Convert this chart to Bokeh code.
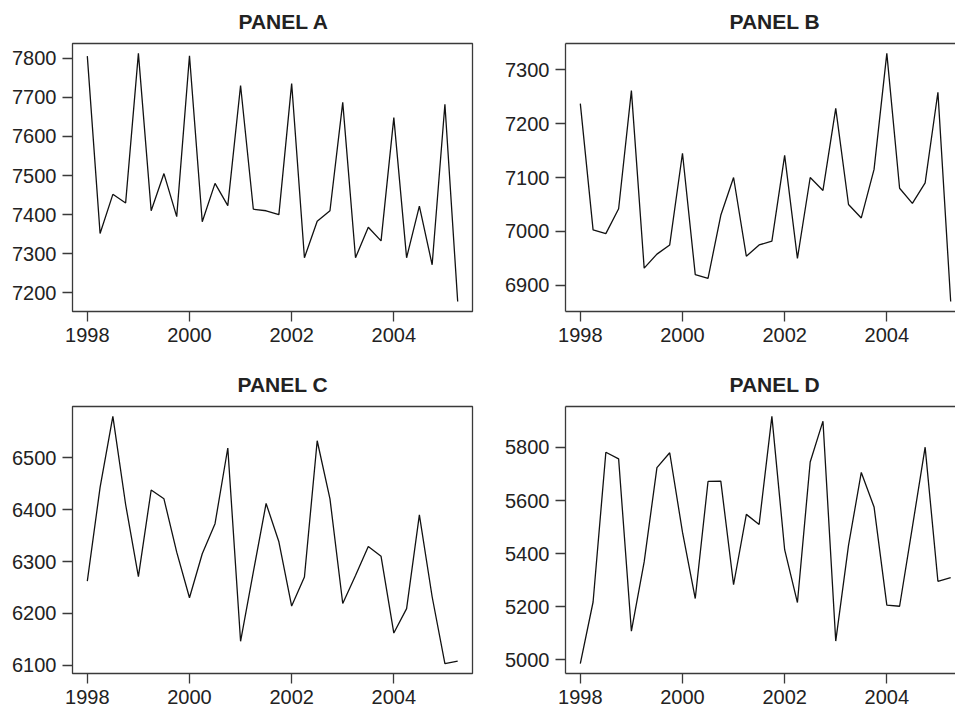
from bokeh.plotting import figure
from bokeh.layouts import gridplot
from bokeh.models import Range1d, LinearAxis, FixedTicker
from bokeh.embed import file_html
from bokeh.resources import INLINE

# Quarterly observations, 1998 Q1 .. 2005 Q2
quarters = [1998 + q / 4 for q in range(30)]

panel_a = [7805, 7352, 7452, 7430, 7812, 7410, 7505, 7395,
           7806, 7382, 7480, 7423, 7730, 7414, 7410, 7400,
           7735, 7290, 7383, 7410, 7687, 7290, 7368, 7333,
           7648, 7290, 7422, 7272, 7682, 7178]

panel_b = [7237, 7003, 6996, 7042, 7261, 6932, 6958, 6975,
           7145, 6920, 6913, 7030, 7100, 6954, 6975, 6982,
           7141, 6950, 7100, 7076, 7228, 7050, 7025, 7115,
           7330, 7080, 7052, 7090, 7258, 6870]

panel_c = [6262, 6443, 6580, 6410, 6271, 6438, 6421, 6318,
           6230, 6315, 6373, 6519, 6146, 6280, 6412, 6338,
           6214, 6270, 6533, 6421, 6219, 6273, 6329, 6310,
           6162, 6209, 6390, 6232, 6103, 6108]

panel_d = [4986, 5218, 5782, 5757, 5108, 5369, 5724, 5780,
           5481, 5231, 5672, 5673, 5283, 5548, 5510, 5917,
           5415, 5216, 5745, 5899, 5071, 5431, 5706, 5576,
           5206, 5202, 5500, 5801, 5296, 5310]

titles = ["PANEL A", "PANEL B", "PANEL C", "PANEL D"]
x_ticks = [1998, 2000, 2002, 2004]
ticks_a = [7200, 7300, 7400, 7500, 7600, 7700, 7800]
ticks_b = [6900, 7000, 7100, 7200, 7300]
ticks_c = [6100, 6200, 6300, 6400, 6500]
ticks_d = [5000, 5200, 5400, 5600, 5800]

FONT = "Liberation Sans"
TXT = "#222222"
FRAME = "#3a3a3a"


def style_axis(ax, ticks):
    ax.ticker = FixedTicker(ticks=ticks)
    ax.minor_tick_line_color = None
    ax.major_tick_in = 0
    ax.major_tick_out = 10
    ax.major_tick_line_color = FRAME
    ax.major_tick_line_width = 1.3
    ax.major_label_text_font = FONT
    ax.major_label_text_font_size = "20px"
    ax.major_label_text_color = TXT
    ax.axis_line_width = 1.3
    ax.axis_line_color = FRAME


def make(title, vals, yticks, fw, fh, bl, br, bt, bb, clipped=False, title_off=166):
    full_w = 400
    span = quarters[-1] - quarters[0]
    x0 = quarters[0] - 0.04 * span
    x1 = quarters[-1] + 0.04 * span
    x1v = x0 + (x1 - x0) * fw / full_w
    lo, hi = min(vals), max(vals)
    pad = 0.04 * (hi - lo)
    p = figure(width=bl + fw + br, height=bt + fh + bb,
               x_range=Range1d(x0, x1v), y_range=Range1d(lo - pad, hi + pad),
               output_backend="svg", toolbar_location=None,
               min_border_left=bl, min_border_right=br,
               min_border_top=bt, min_border_bottom=bb, title=title)
    p.line(quarters, vals, line_color="#111111", line_width=1.3)
    p.grid.visible = False
    p.background_fill_color = "white"
    p.border_fill_color = "white"
    style_axis(p.xaxis[0], x_ticks)
    style_axis(p.yaxis[0], yticks)
    p.xaxis.major_label_standoff = 6
    p.yaxis.major_label_standoff = 6
    p.title.align = "left"
    p.title.offset = title_off
    p.title.vertical_align = "top"
    p.title.text_font = FONT
    p.title.text_font_size = "21px"
    p.title.text_font_style = "bold"
    p.title.text_color = TXT
    p.title.standoff = 17
    if clipped:
        p.outline_line_color = None
        top = LinearAxis(ticker=FixedTicker(ticks=[]), major_tick_out=0,
                         major_tick_in=0, minor_tick_out=0, minor_tick_in=0,
                         axis_line_color=FRAME, axis_line_width=1.3)
        p.add_layout(top, "above")
    else:
        p.outline_line_color = FRAME
        p.outline_line_width = 1.3
        p.xaxis.axis_line_color = None
        p.yaxis.axis_line_color = None
    return p


pa = make(titles[0], panel_a, ticks_a, 400, 268, 72, 8, 43, 39, title_off=166)
pb = make(titles[1], panel_b, ticks_b, 390, 268, 85, 0, 43, 39, clipped=True, title_off=164)
pc = make(titles[2], panel_c, ticks_c, 400, 267, 72, 8, 56, 36, title_off=165)
pd = make(titles[3], panel_d, ticks_d, 390, 267, 85, 0, 56, 36, clipped=True, title_off=164)

grid = gridplot([[pa, pb], [pc, pd]], toolbar_location=None)

open("out.html", "w").write(file_html(grid, INLINE))
